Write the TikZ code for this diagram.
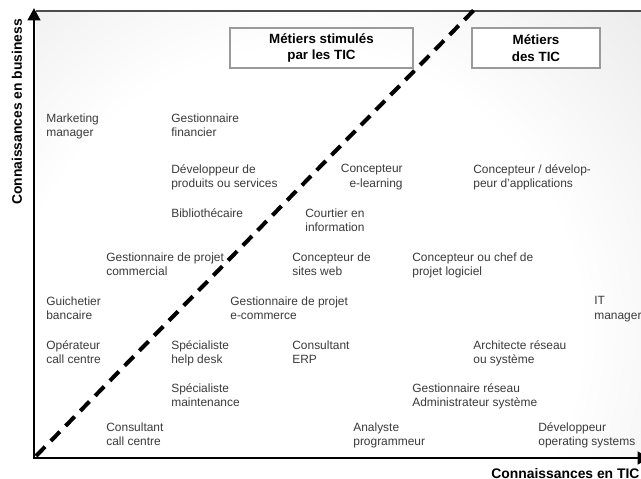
\documentclass[tikz,border=0pt]{standalone}
\usepackage{fontspec}
\setmainfont{Liberation Sans}
\usetikzlibrary{arrows.meta}
\definecolor{bggray}{HTML}{C2C2C2}
\definecolor{txtgray}{HTML}{3A3A3A}
\definecolor{boxgray}{HTML}{9A9A9A}
\pgfdeclareradialshading{bgglow}{\pgfpoint{0bp}{0bp}}{color(0bp)=(white); color(14bp)=(white); color(44bp)=(bggray); color(50bp)=(bggray)}

\begin{document}
\begin{tikzpicture}[x=0.02cm,y=-0.02cm,
  job/.style={anchor=north west,align=left,inner sep=0pt,text=txtgray,font=\fontsize{6.8}{8.25}\selectfont},
  jobr/.style={job,anchor=north east,align=right},
  catbox/.style={draw=boxgray,line width=1.5pt,align=center,minimum height=0.8cm,inner sep=0pt,font=\fontsize{7.6}{9.6}\selectfont\bfseries},
  axislbl/.style={inner sep=0pt,font=\fontsize{7.9}{9}\selectfont\bfseries},
  axis/.style={line width=1.7pt,{Triangle[length=7pt,width=7pt]}-{Triangle[length=7pt,width=7pt]}},
  split/.style={line width=2.3pt,dash pattern=on 7.4pt off 4.6pt}]
\useasboundingbox (0,0) rectangle (641,479);
\fill[bggray] (36,11) rectangle (650,458);
\begin{scope}
\clip (36,11) rectangle (650,458);
\shade[shading=bgglow] (300,330) circle [radius=10cm];
\end{scope}
\draw[gray!60!black,line width=0.6pt] (36,11) -- (650,11);

\coordinate (dstart) at (36,456);
\coordinate (dend) at (476,8);
\draw[split] (dstart) -- (dend);

\coordinate (orig) at (34,458);
\coordinate (ytop) at (34,8);
\coordinate (xend) at (650,458);
\draw[axis] (ytop) -- (orig) -- (xend);

\node[axislbl,rotate=90] (ylbl) at (17,112) {Connaissances en business};
\node[axislbl,anchor=base west] (xlbl) at (491,478) {Connaissances en TIC};

\node[catbox,minimum width=3.66cm] (stim) at (321.5,48) {Métiers stimulés\\par les TIC};
\node[catbox,fill=white,minimum width=2.56cm] (tic) at (536,48) {Métiers\\des TIC};

\node[job] (mktg) at (46,113) {Marketing\\manager};
\node[job] (gfin) at (171,113) {Gestionnaire\\financier};
\node[job] (devprod) at (171,164) {Développeur de\\produits ou services};
\node[job] (biblio) at (171,208) {Bibliothécaire};
\node[jobr] (elearn) at (403,164) {Concepteur\\e-learning};
\node[job] (devapp) at (473,164) {Concepteur / dévelop-\\peur d'applications};
\node[job] (courtier) at (305,208) {Courtier en\\information};
\node[job] (gpcom) at (106,252) {Gestionnaire de projet\\commercial};
\node[job] (web) at (292,252) {Concepteur de\\sites web};
\node[job] (logiciel) at (412,252) {Concepteur ou chef de\\projet logiciel};
\node[job] (guichet) at (46,296) {Guichetier\\bancaire};
\node[job] (gpecom) at (230,296) {Gestionnaire de projet\\e-commerce};
\node[job] (itman) at (594,296) {IT\\manager};
\node[job] (callop) at (46,340) {Opérateur\\call centre};
\node[job] (helpdesk) at (171,340) {Spécialiste\\help desk};
\node[job] (erp) at (292,340) {Consultant\\ERP};
\node[job] (archi) at (473,340) {Architecte réseau\\ou système};
\node[job] (maint) at (171,383) {Spécialiste\\maintenance};
\node[job] (admin) at (412,383) {Gestionnaire réseau\\Administrateur système};
\node[job] (callcons) at (106,422) {Consultant\\call centre};
\node[job] (analyste) at (353,422) {Analyste\\programmeur};
\node[job] (devos) at (538,422) {Développeur\\operating systems};
\end{tikzpicture}
\end{document}
